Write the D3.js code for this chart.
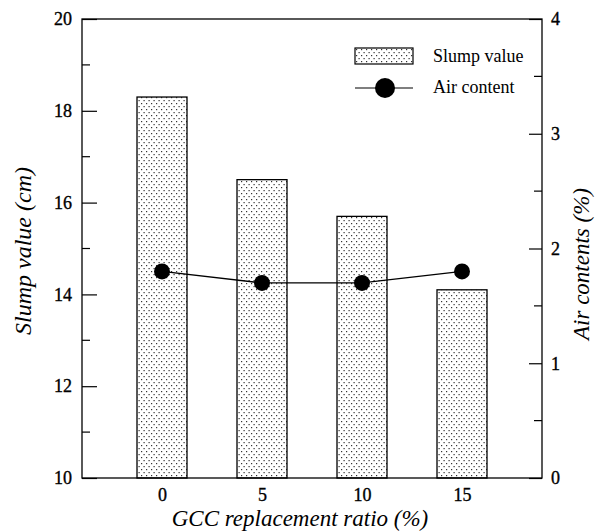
<!DOCTYPE html>
<html>
<head>
<meta charset="utf-8">
<script src="https://cdn.jsdelivr.net/npm/d3@7"></script>
<style>
  html, body { margin: 0; padding: 0; background: #fff; }
</style>
</head>
<body>
<svg id="chart" width="597" height="532"></svg>
<script>
// GCC replacement ratio (%)
const ratios = [0, 5, 10, 15];
// Slump value (cm)
const slumpValues = [18.3, 16.5, 15.7, 14.1];
// Air content (%)
const airContents = [1.8, 1.7, 1.7, 1.8];
const leftTicks = [10, 12, 14, 16, 18, 20];
const leftMinorTicks = [11, 13, 15, 17, 19];
const rightTicks = [0, 1, 2, 3, 4];
const rightMinorTicks = [0.5, 1.5, 2.5, 3.5];
const seriesNames = ["Slump value", "Air content"];

// pick the first installed Times-like face
function pickFont(candidates) {
  const ctx = document.createElement("canvas").getContext("2d");
  const probe = "GCC replacement ratio (%) 0123456789";
  ctx.font = "40px monospace";
  const base = ctx.measureText(probe).width;
  for (const f of candidates) {
    ctx.font = `40px "${f}", monospace`;
    if (Math.abs(ctx.measureText(probe).width - base) > 1) return `"${f}", serif`;
  }
  return "serif";
}
const SERIF = pickFont(["Liberation Serif", "Times New Roman", "Tinos", "Noto Serif", "DejaVu Serif"]);

const svg = d3.select("#chart").style("font-family", SERIF);
const margin = { left: 82, right: 55, top: 19, bottom: 54 };
const W = 597, H = 532;

const x = d3.scaleLinear().domain([-4, 19]).range([margin.left, W - margin.right]);
const yL = d3.scaleLinear().domain([10, 20]).range([H - margin.bottom, margin.top]);
const yR = d3.scaleLinear().domain([0, 4]).range([H - margin.bottom, margin.top]);
const barW = x(2.5) - x(0);

// stipple fill for the bars
const defs = svg.append("defs");
const pat = defs.append("pattern")
  .attr("id", "stipple").attr("patternUnits", "userSpaceOnUse")
  .attr("width", 5).attr("height", 6);
pat.append("rect").attr("width", 5).attr("height", 6).attr("fill", "#fff");
pat.append("rect").attr("x", 1).attr("y", 1).attr("width", 1.2).attr("height", 1.2).attr("fill", "#333");
pat.append("rect").attr("x", 3.5).attr("y", 4).attr("width", 1.2).attr("height", 1.2).attr("fill", "#333");

// bars
svg.append("g").selectAll("rect").data(ratios).join("rect")
  .attr("x", (d) => x(d) - barW / 2)
  .attr("y", (d, i) => yL(slumpValues[i]))
  .attr("width", barW)
  .attr("height", (d, i) => yL(10) - yL(slumpValues[i]))
  .attr("fill", "url(#stipple)")
  .attr("stroke", "#000").attr("stroke-width", 1.3);

// frame
svg.append("rect")
  .attr("x", x.range()[0]).attr("y", margin.top)
  .attr("width", x.range()[1] - x.range()[0])
  .attr("height", H - margin.bottom - margin.top)
  .attr("fill", "none").attr("stroke", "#000").attr("stroke-width", 1.3);

function styleAxisText(g) {
  g.attr("font-family", SERIF).attr("font-size", 18);
  g.selectAll("text").attr("font-family", SERIF).attr("font-size", 18).attr("fill", "#000")
    .attr("stroke", "#000").attr("stroke-width", 0.35);
}

// left axis, ticks pointing inward
const gL = svg.append("g").attr("transform", `translate(${margin.left},0)`)
  .call(d3.axisLeft(yL).tickValues(leftTicks).tickSize(-15).tickPadding(10).tickFormat(d3.format("d")));
gL.select(".domain").remove();
styleAxisText(gL);
gL.selectAll("line").attr("stroke-width", 1.2);
gL.selectAll(".minor").data(leftMinorTicks).join("line").attr("class", "minor")
  .attr("x1", 0).attr("x2", 8).attr("y1", (d) => yL(d)).attr("y2", (d) => yL(d))
  .attr("stroke", "#000").attr("stroke-width", 1.2);

// right axis, ticks pointing inward
const gR = svg.append("g").attr("transform", `translate(${W - margin.right},0)`)
  .call(d3.axisRight(yR).tickValues(rightTicks).tickSize(-13).tickPadding(9).tickFormat(d3.format("d")));
gR.select(".domain").remove();
styleAxisText(gR);
gR.selectAll("line").attr("stroke-width", 1.2);
gR.selectAll(".minor").data(rightMinorTicks).join("line").attr("class", "minor")
  .attr("x1", 0).attr("x2", -8).attr("y1", (d) => yR(d)).attr("y2", (d) => yR(d))
  .attr("stroke", "#000").attr("stroke-width", 1.2);

// bottom axis, labels only
const gB = svg.append("g").attr("transform", `translate(0,${H - margin.bottom})`)
  .call(d3.axisBottom(x).tickValues(ratios).tickSize(0).tickPadding(10).tickFormat(d3.format("d")));
gB.select(".domain").remove();
styleAxisText(gB);

// air content line and markers
const line = d3.line().x((d) => x(d)).y((d, i) => yR(airContents[i]));
svg.append("path").datum(ratios).attr("d", line)
  .attr("fill", "none").attr("stroke", "#000").attr("stroke-width", 1.3);
svg.append("g").selectAll("circle").data(ratios).join("circle")
  .attr("cx", (d) => x(d)).attr("cy", (d, i) => yR(airContents[i]))
  .attr("r", 8).attr("fill", "#000");

// axis titles
function title(sel, size) {
  return sel.attr("text-anchor", "middle").attr("font-family", SERIF)
    .attr("font-size", size).attr("font-style", "italic").attr("fill", "#000");
}
svg.append("text").attr("x", 300).attr("y", 526)
  .call(title, 23).text("GCC replacement ratio (%)");
svg.append("text")
  .attr("transform", `translate(31,251) rotate(-90)`)
  .call(title, 24).text("Slump value (cm)");
svg.append("text")
  .attr("transform", `translate(589,264) rotate(-90)`)
  .call(title, 23).text("Air contents (%)");

// legend
const lg = svg.append("g");
lg.append("rect").attr("x", 355).attr("y", 48).attr("width", 58).attr("height", 16)
  .attr("fill", "url(#stipple)").attr("stroke", "#000").attr("stroke-width", 1.2);
lg.append("line").attr("x1", 355).attr("x2", 413).attr("y1", 88).attr("y2", 88)
  .attr("stroke", "#000").attr("stroke-width", 1.2);
lg.append("circle").attr("cx", 385).attr("cy", 88).attr("r", 10).attr("fill", "#000");
lg.selectAll("text.lab").data(seriesNames).join("text").attr("class", "lab")
  .attr("x", 433).attr("y", (d, i) => 62 + i * 31)
  .attr("font-family", SERIF).attr("font-size", 18).attr("fill", "#000").text((d) => d);
</script>
</body>
</html>
